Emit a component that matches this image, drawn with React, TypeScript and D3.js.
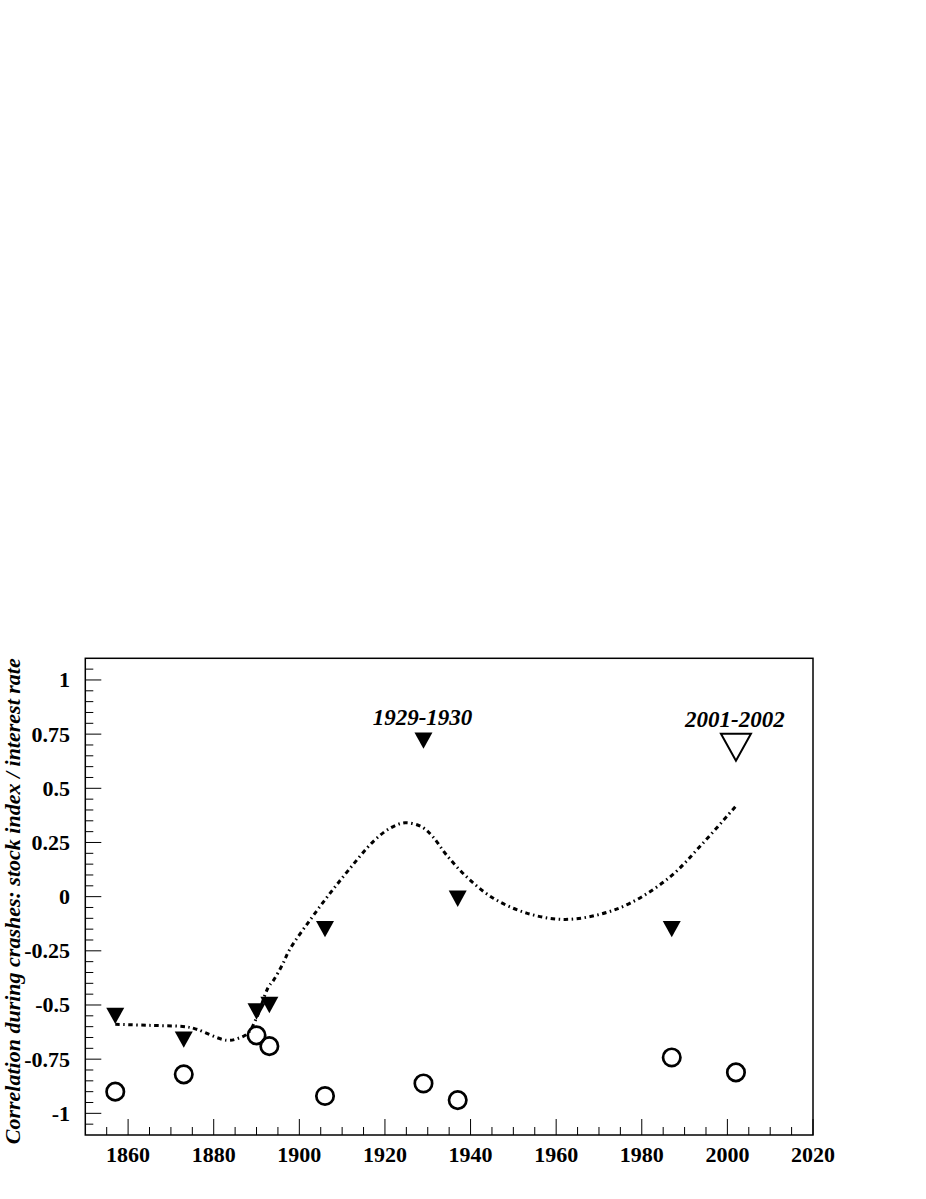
import React from "react";
import * as d3 from "d3";

// crash years, filled triangles: correlation stock index / interest rate
const triangleYears = [1857, 1873, 1890, 1893, 1906, 1929, 1937, 1987];
const triangleValues = [-0.55, -0.66, -0.53, -0.5, -0.15, 0.72, -0.01, -0.15];

// open circles
const circleYears = [1857, 1873, 1890, 1893, 1906, 1929, 1937, 1987, 2002];
const circleValues = [-0.9, -0.82, -0.64, -0.69, -0.92, -0.862, -0.939, -0.742, -0.811];

// the big open triangle for 2001-2002
const openYears = [2002];
const openValues = [0.69];

// smooth fit curve
const fitYears = [
  1857, 1865, 1873.7, 1876, 1883, 1885.7, 1888, 1890, 1892.7, 1894, 1896,
  1897.8, 1902.5, 1907.2, 1911.9, 1917.2, 1921.2, 1924.7, 1928.6, 1931.2,
  1934.4, 1939.1, 1945.3, 1953.1, 1961.6, 1969.5, 1977.3, 1986.6, 1994.3, 2002.2,
];
const fitValues = [
  -0.589, -0.594, -0.601, -0.612, -0.663, -0.654, -0.63, -0.56, -0.42, -0.385,
  -0.316, -0.242, -0.108, 0.016, 0.132, 0.253, 0.316, 0.341, 0.322, 0.276,
  0.192, 0.091, -0.007, -0.076, -0.105, -0.085, -0.03, 0.091, 0.247, 0.423,
];

const annotations = ["1929-1930", "2001-2002"];
const annotationYears = [1929, 2002];
const annotationValues = [0.72, 0.69];

const xTicks = [1860, 1880, 1900, 1920, 1940, 1960, 1980, 2000, 2020];
const yTicks = [1, 0.75, 0.5, 0.25, 0, -0.25, -0.5, -0.75, -1];
const yTitle = "Correlation during crashes: stock index / interest rate";

const W = 926;
const H = 1199;
const left = 85.3;
const right = 813;
const top = 658.3;
const bottom = 1135;
const font = "Liberation Serif, Times New Roman, serif";

export default function App() {
  const x = d3.scaleLinear().domain([1850, 2020]).range([left, right]);
  const y = d3.scaleLinear().domain([-1.1, 1.1]).range([bottom, top]);

  const minorX = d3.range(1855, 2020, 5).filter((v) => v % 20 !== 0);
  const minorY = d3
    .range(-21, 22)
    .map((i) => i * 0.05)
    .filter((v) => Math.abs(Math.round(v * 100) % 25) !== 0);

  const line = d3
    .line<number>()
    .x((_, i) => x(fitYears[i]))
    .y((d) => y(d))
    .curve(d3.curveCatmullRom);

  const tri = (s: number, h: number) => `M${-s},${-h}L${s},${-h}L0,${h}Z`;

  return (
    <svg
      width={W}
      height={H}
      style={{ position: "absolute", left: 0, top: 0, background: "#fff" }}
    >
      {/* x ticks */}
      {minorX.map((v) => (
        <line key={"mx" + v} x1={x(v)} x2={x(v)} y1={bottom} y2={bottom - 8} stroke="#000" strokeWidth={1} />
      ))}
      {xTicks.map((v) => (
        <line key={"x" + v} x1={x(v)} x2={x(v)} y1={bottom} y2={bottom - 16} stroke="#000" strokeWidth={1} />
      ))}
      {xTicks.map((v) => (
        <text
          key={"xl" + v}
          x={x(v)}
          y={1162}
          textAnchor="middle"
          fontFamily={font}
          fontWeight="bold"
          fontSize={22}
        >
          {v}
        </text>
      ))}

      {/* y ticks */}
      {minorY.map((v) => (
        <line key={"my" + v} x1={left} x2={left + 8} y1={y(v)} y2={y(v)} stroke="#000" strokeWidth={1} />
      ))}
      {yTicks.map((v) => (
        <line key={"y" + v} x1={left} x2={left + 16} y1={y(v)} y2={y(v)} stroke="#000" strokeWidth={1} />
      ))}
      {yTicks.map((v) => (
        <text
          key={"yl" + v}
          x={70}
          y={y(v) + 7.5}
          textAnchor="end"
          fontFamily={font}
          fontWeight="bold"
          fontSize={22}
        >
          {v}
        </text>
      ))}

      {/* frame */}
      <rect x={left} y={top} width={right - left} height={bottom - top} fill="none" stroke="#000" strokeWidth={1.5} />

      {/* fit curve */}
      <path
        d={line(fitValues) || ""}
        fill="none"
        stroke="#000"
        strokeWidth={3}
        strokeDasharray="4.5,3.5,1.5,3.5"
      />

      {/* circles */}
      {circleYears.map((yr, i) => (
        <circle key={"c" + i} cx={x(yr)} cy={y(circleValues[i])} r={8.7} fill="none" stroke="#000" strokeWidth={2.7} />
      ))}

      {/* filled triangles */}
      {triangleYears.map((yr, i) => (
        <path
          key={"t" + i}
          transform={`translate(${x(yr)},${y(triangleValues[i])})`}
          d={tri(9, 8.2)}
          fill="#000"
        />
      ))}

      {/* open triangle */}
      {openYears.map((yr, i) => (
        <path
          key={"o" + i}
          transform={`translate(${x(yr)},${y(openValues[i])})`}
          d={tri(15, 13.5)}
          fill="none"
          stroke="#000"
          strokeWidth={2}
        />
      ))}

      {/* annotations */}
      {annotations.map((t, i) => (
        <text
          key={"a" + i}
          x={x(annotationYears[i]) - 1}
          y={y(annotationValues[i]) - (i === 0 ? 16 : 20)}
          textAnchor="middle"
          fontFamily={font}
          fontWeight="bold"
          fontStyle="italic"
          fontSize={23}
        >
          {t}
        </text>
      ))}

      {/* y title */}
      <text
        transform={`translate(20,${top}) rotate(-90)`}
        textAnchor="end"
        fontFamily={font}
        fontWeight="bold"
        fontStyle="italic"
        fontSize={22}
      >
        {yTitle}
      </text>
    </svg>
  );
}
